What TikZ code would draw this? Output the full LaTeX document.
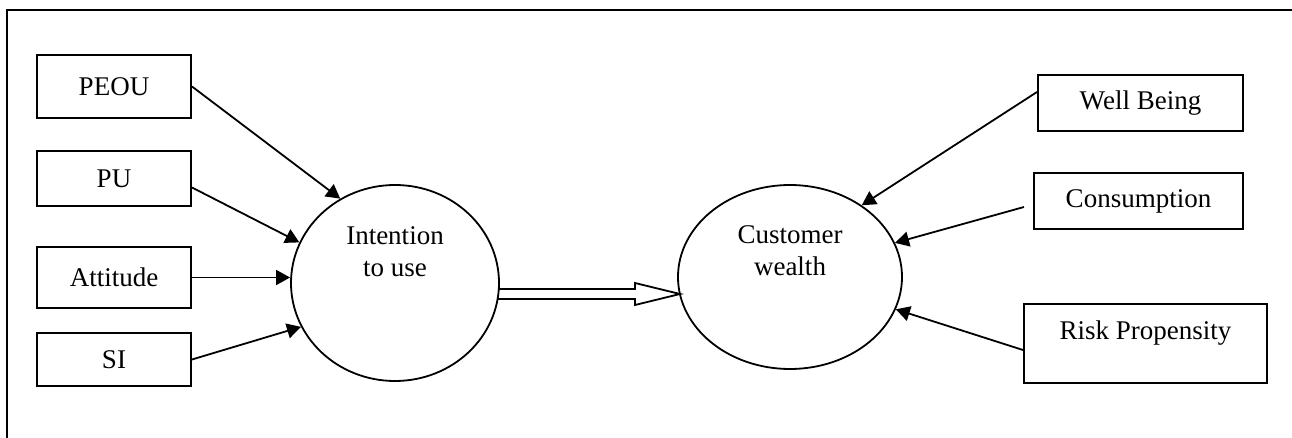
\documentclass[tikz,border=0pt]{standalone}
\usepackage{fontspec}
\setmainfont{Liberation Serif}
\usetikzlibrary{arrows.meta,positioning,calc,shapes.geometric}

\begin{document}
\begin{tikzpicture}[x=0.5pt,y=-0.5pt,font=\fontsize{13.5}{16}\selectfont,
  box/.style={draw,line width=1pt,inner sep=0pt},
  blob/.style={draw,ellipse,line width=0.9pt,inner sep=0pt},
  link/.style={line width=0.9pt,-{Triangle[length=7pt,width=7.5pt]}}]
  \useasboundingbox (0,0) rectangle (1292,438);
  % frame, cut off at right and bottom
  \draw[line width=1pt] (7,460) -- (7,10) -- (1310,10);

  % predictors
  \node[box,minimum width=77pt,minimum height=31.5pt] (peou) at (114,86.5){PEOU};
  \node[box,minimum width=77pt,minimum height=27.5pt,below=15.5pt of peou] (pu){PU};
  \node[box,minimum width=77pt,minimum height=30.5pt,below=19.5pt of pu] (att){Attitude};
  \node[box,minimum width=77pt,minimum height=26.5pt,below=11.5pt of att] (si){SI};

  % constructs
  \node[blob,minimum width=104pt,minimum height=98pt] (itu) at (395,283){};
  \node[align=center] (itutxt) at ([yshift=15.5pt]itu.center){Intention\\to use};
  \node[blob,minimum width=112pt,minimum height=92pt] (cw) at (790,277){};
  \node[align=center] (cwtxt) at ([yshift=13.25pt]cw.center){Customer\\wealth};

  % outcomes
  \node[box,minimum width=102.5pt,minimum height=28pt] (wb) at (1140.5,103){Well Being};
  \node[box,minimum width=104.5pt,minimum height=28pt,below=20pt of wb.south east,anchor=north east] (cons){Consumption};
  \node[box,minimum width=121.5pt,minimum height=39.5pt,text height=9pt,text depth=12.5pt] (risk) at (1145.5,343.5){Risk Propensity};

  \draw[link] (peou.east) -- (itu.123.5);
  \draw[link] ([yshift=-4.5pt]pu.east) -- (itu.157);
  \draw[link] (att.east) -- (att.east -| itu.west);
  \draw[link] (si.east) -- (itu.205);

  \draw[link] ([yshift=5.5pt]wb.west) -- (cw.45);
  \draw[link] ([xshift=-4.5pt,yshift=-3pt]cons.west) -- (cw.18);
  \draw[link] ([yshift=-3.25pt]risk.west) -- (cw.-17);

  % hollow double arrow
  \coordinate (ds) at (498,294);
  \coordinate (de) at (680,294);
  \draw[line width=0.9pt,line join=miter] ($(ds)+(0,-5)$) -- ($(de)+(-45,-5)$) -- ($(de)+(-45,-11)$) -- (de)
    -- ($(de)+(-45,11)$) -- ($(de)+(-45,5)$) -- ($(ds)+(0,5)$);
\end{tikzpicture}
\end{document}
